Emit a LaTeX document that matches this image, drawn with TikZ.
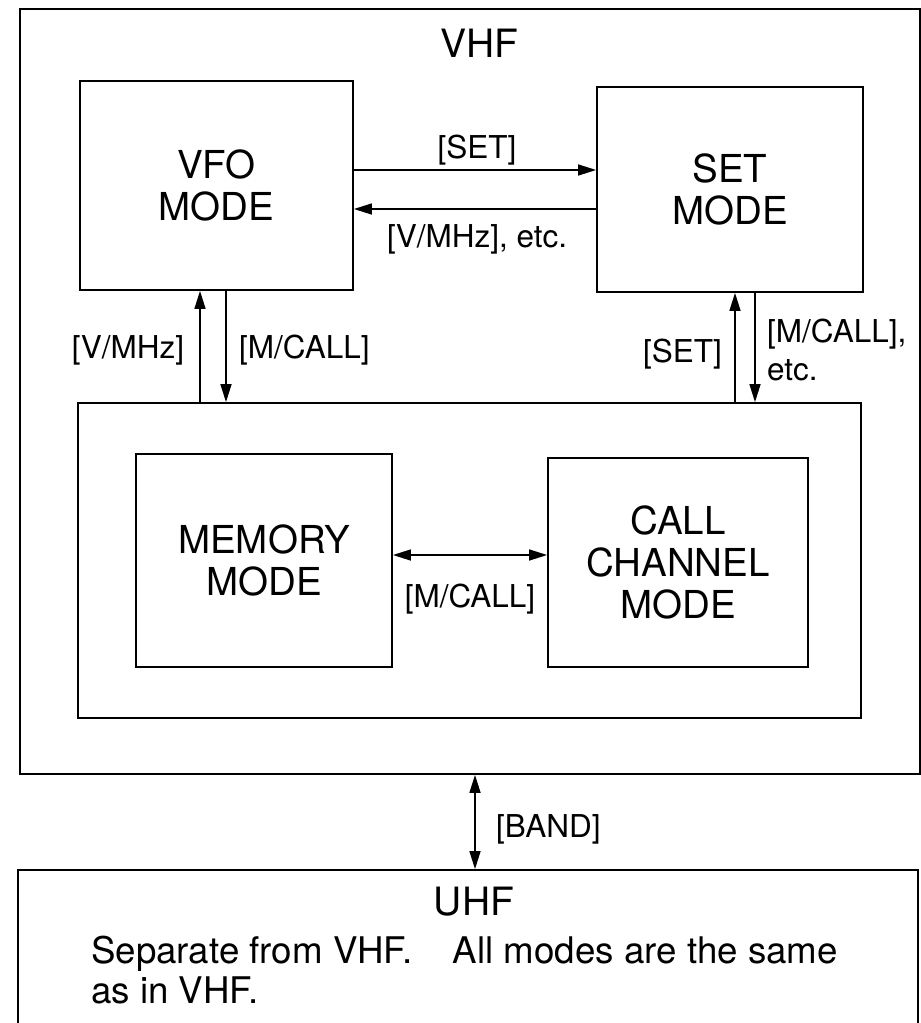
\documentclass[tikz,border=0pt]{standalone}
\usepackage{fontspec}
\setmainfont{TeX Gyre Heros}
\usetikzlibrary{arrows.meta,calc}
\begin{document}
\begin{tikzpicture}[x=1pt,y=-1pt,
  box/.style={draw, line width=1.8pt, inner sep=0pt},
  modebox/.style={box, font=\fontsize{38.5}{42}\selectfont, align=center},
  lbl/.style={font=\fontsize{31.5}{34}\selectfont, inner sep=0pt},
  head/.style={font=\fontsize{39}{42}\selectfont, inner sep=0pt},
  bodytext/.style={font=\fontsize{36.7}{40}\selectfont, inner sep=0pt},
  arr/.style={line width=1.5pt, -{Triangle[length=18pt,width=11pt]}},
  darr/.style={line width=1.5pt, {Triangle[length=18pt,width=11pt]}-{Triangle[length=18pt,width=11pt]}}]
\useasboundingbox (0,0) rectangle (921,1023);
\fill[white] (0,0) rectangle (921,1023);
% outer boxes
\node[box, minimum width=900pt, minimum height=765pt] (vhf) at (470,391.5) {};
\node[box, minimum width=900pt, minimum height=170pt] (uhf) at (468,955) {};
% mode boxes
\node[modebox, minimum width=273pt, minimum height=209pt] (vfo) at (216.5,185.5) {VFO\\MODE};
\node[modebox, minimum width=266pt, minimum height=205pt] (set) at (730,189.5) {SET\\MODE};
\node[box, minimum width=783pt, minimum height=315pt] (grp) at (469.5,560.5) {};
\node[modebox, minimum width=256pt, minimum height=213pt] (mem) at (264,560.5) {MEMORY\\MODE};
\node[modebox, minimum width=260pt, minimum height=209pt] (call) at (678,562.5) {CALL\\CHANNEL\\MODE};
% headings
\node[head, anchor=base] (vhft) at (479,57) {VHF};
\node[head, anchor=base] (uhft) at (474,915) {UHF};
\node[bodytext, anchor=base west] (body1) at (91,963) {Separate from VHF.\hspace{1.1em}All modes are the same};
\node[bodytext, anchor=base west] (body2) at (91,1003) {as in VHF.};
% connectors
\draw[arr] ([yshift=15.5pt]vfo.east) -- ([yshift=15.5pt]vfo.east -| set.west);
\draw[arr] ([yshift=-19.5pt]set.west) -- ([yshift=-19.5pt]set.west -| vfo.east);
\draw[arr] ([xshift=-16.5pt]vfo.south |- grp.north) -- ([xshift=-16.5pt]vfo.south);
\draw[arr] ([xshift=9.5pt]vfo.south) -- ([xshift=9.5pt]vfo.south |- grp.north);
\draw[arr] ([xshift=5pt]set.south |- grp.north) -- ([xshift=5pt]set.south);
\draw[arr] ([xshift=25pt]set.south) -- ([xshift=25pt]set.south |- grp.north);
\draw[darr] ([yshift=5.5pt]mem.east) -- ([yshift=5.5pt]mem.east -| call.west);
\draw[darr] ([xshift=5pt]vhf.south) -- ([xshift=5pt]vhf.south |- uhf.north);
% labels
\node[lbl, anchor=base] (lset) at (477,158) {[SET]};
\node[lbl, anchor=base] (lvmhz) at (477,247) {[V/MHz], etc.};
\node[lbl, anchor=base] (lvmhzb) at (128,358) {[V/MHz]};
\node[lbl, anchor=base west] (lmcall) at (239,358) {[M/CALL]};
\node[lbl, anchor=base east] (lsetb) at (722,362) {[SET]};
\node[lbl, anchor=base west] (lmcallb) at (767,342) {[M/CALL],};
\node[lbl, anchor=base west] (letc) at (767,380) {etc.};
\node[lbl, anchor=base] (lmcallc) at (470,607) {[M/CALL]};
\node[lbl, anchor=base west] (lband) at (496,837) {[BAND]};
\end{tikzpicture}
\end{document}
